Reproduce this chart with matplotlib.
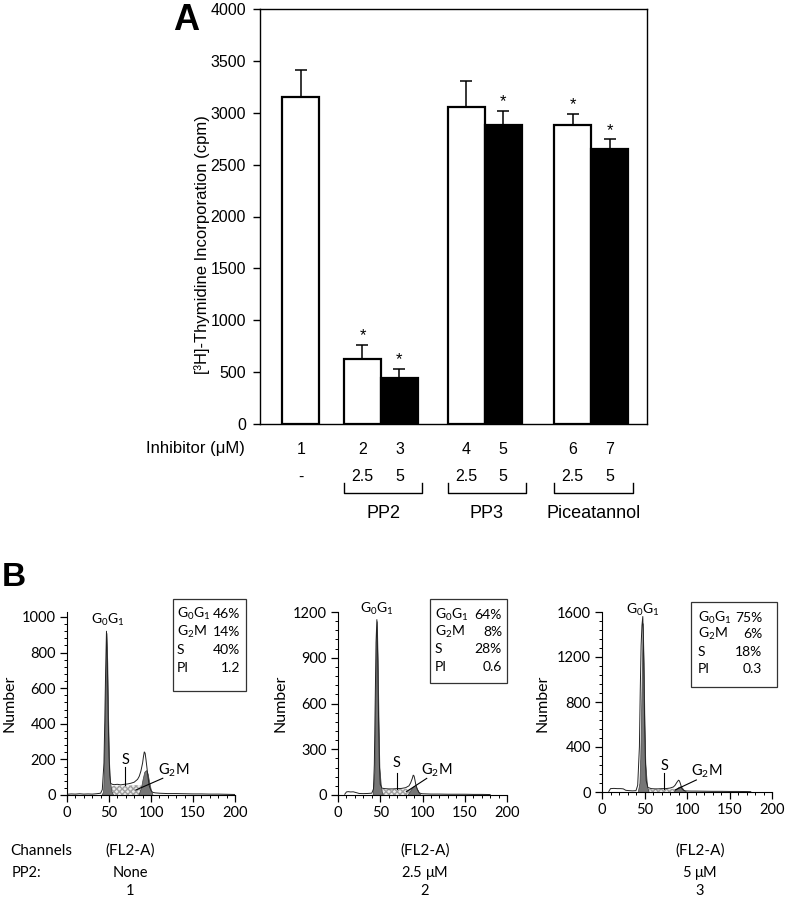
import matplotlib
matplotlib.use('Agg')
import matplotlib.pyplot as plt
from matplotlib import transforms
from matplotlib.ticker import AutoMinorLocator, MultipleLocator
from matplotlib.patches import Rectangle

# panel A: [3H]-thymidine incorporation
lanes = ['1', '2', '3', '4', '5', '6', '7']
doses = ['-', '2.5', '5', '2.5', '5', '2.5', '5']
groups = ['PP2', 'PP3', 'Piceatannol']
group_lanes = [(1, 2), (3, 4), (5, 6)]
cpm = [3150, 630, 440, 3060, 2880, 2880, 2650]
cpm_err = [265, 135, 90, 250, 140, 110, 95]
bar_fill = ['white', 'white', 'black', 'white', 'black', 'white', 'black']
signif = [False, True, True, False, True, True, True]

# panel B: DNA histograms (channel, count)
raw1_ch = [0, 5, 10, 15, 20, 25, 30, 35, 40, 42, 44, 45, 46, 47, 48, 49, 50, 51, 52, 54, 56, 60, 64, 68, 72, 76, 80, 84, 86, 88, 90, 91, 92, 93, 94, 95, 96, 97, 98, 100, 102, 105, 110, 115, 120, 130, 140, 150, 160, 170, 180, 190, 200]
raw1_n = [4, 6, 5, 7, 5, 6, 5, 7, 10, 30, 180, 420, 700, 920, 760, 450, 220, 110, 65, 60, 58, 60, 57, 60, 62, 66, 72, 88, 105, 135, 180, 215, 242, 235, 200, 160, 120, 80, 50, 25, 15, 12, 10, 9, 8, 8, 7, 6, 6, 5, 5, 4, 3]
g1_1_ch = [41, 43, 44, 45, 46, 47, 48, 49, 50, 51, 53, 55]
g1_1_n = [0, 20, 150, 400, 680, 910, 740, 430, 200, 80, 20, 0]
s1_ch = [51, 53, 60, 70, 80, 86, 90, 94, 97]
s1_n = [0, 50, 52, 52, 55, 55, 50, 30, 0]
g2_1_ch = [85, 88, 90, 92, 94, 96, 98, 100, 102]
g2_1_n = [0, 40, 90, 130, 140, 120, 70, 25, 0]

raw2_ch = [8, 10, 12, 15, 18, 22, 25, 30, 35, 40, 42, 43, 44, 45, 46, 47, 48, 49, 50, 52, 55, 60, 65, 70, 75, 80, 84, 86, 88, 89, 90, 91, 92, 94, 96, 98, 100, 105, 110, 120, 130, 140, 150, 160, 170, 180]
raw2_n = [5, 20, 22, 20, 21, 15, 10, 9, 10, 12, 40, 200, 600, 1000, 1150, 900, 500, 200, 70, 45, 42, 40, 40, 42, 43, 48, 60, 80, 110, 130, 125, 100, 70, 35, 15, 10, 8, 7, 6, 6, 5, 5, 5, 4, 4, 3]
g1_2_ch = [41, 43, 44, 45, 46, 47, 48, 49, 51, 53]
g1_2_n = [0, 150, 550, 980, 1140, 880, 480, 180, 40, 0]
s2_ch = [50, 52, 60, 70, 80, 86, 90, 94, 97]
s2_n = [0, 38, 38, 38, 40, 40, 35, 20, 0]
g2_2_ch = [82, 85, 88, 90, 92, 94, 96, 98]
g2_2_n = [0, 25, 50, 60, 55, 35, 12, 0]

raw3_ch = [8, 10, 14, 18, 22, 25, 28, 32, 36, 40, 42, 44, 45, 46, 47, 48, 49, 50, 51, 52, 54, 58, 62, 66, 70, 75, 80, 84, 86, 88, 90, 91, 92, 93, 94, 96, 98, 100, 105, 110, 120, 130, 140, 150, 160, 170, 175]
raw3_n = [5, 30, 32, 30, 30, 28, 15, 12, 10, 12, 60, 400, 900, 1300, 1480, 1560, 1200, 700, 300, 100, 40, 30, 28, 28, 30, 30, 35, 45, 60, 85, 105, 100, 80, 55, 30, 15, 10, 9, 8, 8, 7, 6, 6, 5, 5, 4, 3]
g1_3_ch = [42, 44, 45, 46, 47, 48, 49, 50, 51, 53, 55]
g1_3_n = [0, 80, 300, 700, 1150, 1500, 1150, 600, 250, 50, 0]
s3_ch = [50, 52, 60, 70, 80, 86, 90, 94, 97]
s3_n = [0, 25, 25, 26, 28, 28, 25, 15, 0]
g2_3_ch = [84, 87, 90, 92, 94, 96, 98, 100]
g2_3_n = [0, 25, 45, 50, 40, 20, 8, 0]

phase_names = ['G$_0$G$_1$', 'G$_2$M', 'S', 'PI']
phase_vals1 = ['46%', '14%', '40%', '1.2']
phase_vals2 = ['64%', '8%', '28%', '0.6']
phase_vals3 = ['75%', '6%', '18%', '0.3']
pp2_dose = ['None', '2.5 $\\mu$M', '5 $\\mu$M']
sample_no = ['1', '2', '3']

W, H = 794, 899
def fx(px):
    return px / W
def fy(py):
    return 1 - py / H

plt.rcParams['mathtext.fontset'] = 'custom'
plt.rcParams['mathtext.rm'] = 'Lato'
plt.rcParams['mathtext.it'] = 'DejaVu Sans:italic'
plt.rcParams['mathtext.default'] = 'regular'

fig = plt.figure(figsize=(W / 100, H / 100), dpi=100)

# ---------------- panel A ----------------
fa = ['Liberation Sans', 'DejaVu Sans']
ax = fig.add_axes([fx(260), fy(424), fx(647) - fx(260), fy(9) - fy(424)])
bar_pos = [1.1, 2.77, 3.77, 5.57, 6.57, 8.45, 9.45]
ax.bar(bar_pos, cpm, width=1.0, color=bar_fill, edgecolor='black', linewidth=1.6, zorder=2)
ax.errorbar(bar_pos, cpm, yerr=[[0] * len(cpm), cpm_err], fmt='none', ecolor='black',
            elinewidth=1.1, capsize=4, capthick=1.1, zorder=1)
for x, v, e, s in zip(bar_pos, cpm, cpm_err, signif):
    if s:
        ax.annotate('*', xy=(x, v + e), xytext=(0, 1), textcoords='offset points',
                    ha='center', va='bottom', fontsize=12, family=fa)
ax.set_xlim(0, 10.46)
ax.set_ylim(0, 4000)
ax.yaxis.set_major_locator(MultipleLocator(500))
ax.set_xticks(bar_pos)
ax.set_xticklabels(lanes, family=fa, fontsize=11.5)
ax.tick_params(axis='x', length=0, pad=13)
ax.tick_params(axis='y', direction='out', length=5, width=1, labelsize=11.5, pad=5)
for lab in ax.get_yticklabels():
    lab.set_family(fa)
for sp in ax.spines.values():
    sp.set_linewidth(1.0)

fig.text(fx(202), fy(245), '[³H]-Thymidine Incorporation (cpm)', rotation=90,
         ha='center', va='center', fontsize=12, family=fa)
fig.text(fx(146), fy(449), 'Inhibitor (μM)', ha='left', va='center', fontsize=12, family=fa)
fig.text(fx(186), fy(20), 'A', ha='center', va='center', fontsize=26, fontweight='bold', family=fa)

trA = transforms.blended_transform_factory(ax.transData, fig.transFigure)
for x, d in zip(bar_pos, doses):
    ax.text(x, fy(477), d, transform=trA, ha='center', va='center', fontsize=11.5, family=fa)
for name, (i, j) in zip(groups, group_lanes):
    x0 = bar_pos[i] - 0.5
    x1 = bar_pos[j] + 0.62
    ax.plot([x0, x0, x1, x1], [fy(483), fy(493), fy(493), fy(483)], color='black',
            lw=1.0, transform=trA, clip_on=False)
    ax.text((x0 + x1) / 2, fy(514), name, transform=trA, ha='center', va='center',
            fontsize=13, family=fa)

# ---------------- panel B ----------------
fb = ['Lato', 'DejaVu Sans']
hist_sets = [
    (raw1_ch, raw1_n, g1_1_ch, g1_1_n, s1_ch, s1_n, g2_1_ch, g2_1_n, phase_vals1),
    (raw2_ch, raw2_n, g1_2_ch, g1_2_n, s2_ch, s2_n, g2_2_ch, g2_2_n, phase_vals2),
    (raw3_ch, raw3_n, g1_3_ch, g1_3_n, s3_ch, s3_n, g2_3_ch, g2_3_n, phase_vals3),
]
# layout per panel: axes px (left, right, bottom, top)
panel_px = [(67, 235, 795, 612), (338, 507, 795, 612), (602, 772, 792, 612)]
ylims = [1028, 1200, 1600]
ysteps = [200, 300, 400]
g0_lab = [(48, 985), (46, 1220), (48, 1618)]
s_lab = [(69.5, 197, 159, 56), (69.5, 212, 142, 37), (73, 231, 172, 24)]
g2_lab = [(127, 140, 114, 94, 82, 28), (117, 160, 105, 109, 81, 22), (123, 181, 111, 107, 86, 18)]
box_px = [(173, 246, 599, 691), (430, 507, 599, 683), (691, 777, 602, 687)]
row_px = [(614, 632, 650, 668), (615, 632, 649, 667), (618, 634, 652, 669)]
col_px = [(177, 240), (435, 502), (698, 762)]
label_x = [10, 280, 542]
center_x = [130, 425, 700]

for k, (rc, rn, gc, gn, sc, sn, hc, hn, vals) in enumerate(hist_sets):
    l, r, b, t = panel_px[k]
    a = fig.add_axes([fx(l), fy(b), fx(r) - fx(l), fy(t) - fy(b)])
    a.fill_between(sc, sn, 0, facecolor='#ececec', edgecolor='#a0a0a0', hatch='xxxxxx',
                   linewidth=0, zorder=1)
    a.fill_between(gc, gn, 0, facecolor='#767676', edgecolor='#444444', linewidth=0.5, zorder=2)
    a.fill_between(hc, hn, 0, facecolor='#767676', edgecolor='#444444', linewidth=0.5, zorder=2)
    a.plot(rc, rn, color='#222222', lw=0.7, zorder=3)
    a.set_xlim(0, 200)
    a.set_ylim(0, ylims[k])
    a.xaxis.set_major_locator(MultipleLocator(50))
    a.yaxis.set_major_locator(MultipleLocator(ysteps[k]))
    a.xaxis.set_minor_locator(AutoMinorLocator(5))
    a.yaxis.set_minor_locator(AutoMinorLocator(5))
    a.spines['top'].set_visible(False)
    a.spines['right'].set_visible(False)
    a.tick_params(which='major', direction='out', length=5, width=0.9, labelsize=10.5, pad=3)
    a.tick_params(which='minor', direction='out', length=2.5, width=0.7)
    for lab in a.get_xticklabels() + a.get_yticklabels():
        lab.set_family(fb)

    gx, gy = g0_lab[k]
    a.text(gx, gy, phase_names[0], ha='center', va='center', fontsize=10, family=fb)
    sx, sy, s_top, s_bot = s_lab[k]
    a.text(sx, sy, 'S', ha='center', va='center', fontsize=10.5, family=fb)
    a.plot([sx, sx], [s_top, s_bot], color='black', lw=0.8, zorder=4)
    tx, ty, lx0, ly0, lx1, ly1 = g2_lab[k]
    a.text(tx, ty, phase_names[1], ha='center', va='center', fontsize=10.5, family=fb)
    a.plot([lx0, lx1], [ly0, ly1], color='black', lw=0.8, zorder=4)

    bl, br, bt, bb = box_px[k]
    fig.add_artist(Rectangle((fx(bl), fy(bb)), fx(br) - fx(bl), fy(bt) - fy(bb),
                             transform=fig.transFigure, fill=False, edgecolor='#333333', lw=0.9))
    for name, val, py in zip(phase_names, vals, row_px[k]):
        fig.text(fx(col_px[k][0]), fy(py), name, ha='left', va='center', fontsize=10, family=fb)
        fig.text(fx(col_px[k][1]), fy(py), val, ha='right', va='center', fontsize=10, family=fb)

    fig.text(fx(label_x[k]), fy(703), 'Number', rotation=90, ha='center', va='center',
             fontsize=11.5, family=fb)
    fig.text(fx(center_x[k]), fy(851), '(FL2-A)', ha='center', va='center', fontsize=11, family=fb)
    fig.text(fx(center_x[k]), fy(873), pp2_dose[k], ha='center', va='center', fontsize=10.5, family=fb)
    fig.text(fx(center_x[k]), fy(891), sample_no[k], ha='center', va='center', fontsize=10.5, family=fb)

fig.text(fx(10), fy(851), 'Channels', ha='left', va='center', fontsize=11, family=fb)
fig.text(fx(12), fy(873), 'PP2:', ha='left', va='center', fontsize=10.5, family=fb)
fig.text(fx(14), fy(578), 'B', ha='center', va='center', fontsize=24, fontweight='bold',
         family=['Liberation Sans', 'DejaVu Sans'])

fig.savefig('out.png', dpi=100)
